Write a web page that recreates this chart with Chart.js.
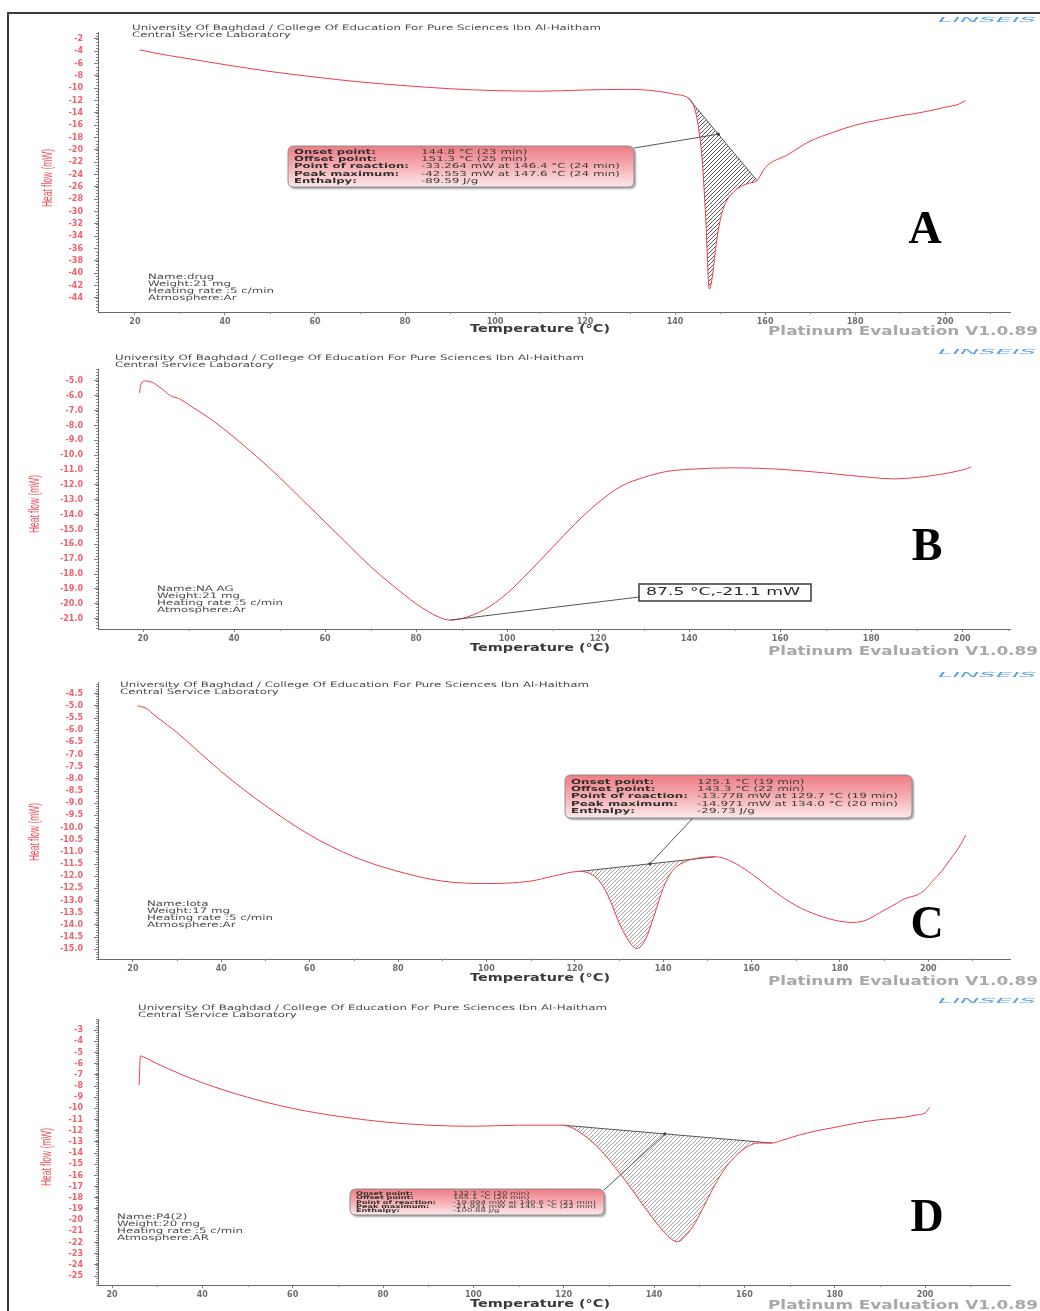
<!DOCTYPE html>
<html>
<head>
<meta charset="utf-8">
<title>DSC thermograms</title>
<script src="https://cdn.jsdelivr.net/npm/chart.js@4.4.1/dist/chart.umd.min.js"></script>
<style>
  html, body { margin:0; padding:0; background:#fff; }
  #sheet { position:relative; width:1040px; height:1311px; overflow:hidden; background:#fff; }
  #sheet canvas { position:absolute; left:0; }
  #frame { position:absolute; left:7px; top:12px; width:1060px; height:1320px;
           border-left:2px solid #3c3c3c; border-top:2px solid #3c3c3c; }
</style>
</head>
<body>
<div id="sheet">
  <div id="frame"></div>
  <canvas id="dscA" width="1040" height="328" style="top:14px"></canvas>
  <canvas id="dscB" width="1040" height="322" style="top:342px"></canvas>
  <canvas id="dscC" width="1040" height="328" style="top:664px"></canvas>
  <canvas id="dscD" width="1040" height="319" style="top:992px"></canvas>
</div>
<script>
// ---------- shared axis labels ----------
const xTickValues = [20, 40, 60, 80, 100, 120, 140, 160, 180, 200];
const headerLines = ['University Of Baghdad / College Of Education For Pure Sciences Ibn Al-Haitham',
                     'Central Service Laboratory'];
const resultLabels = ['Onset point:', 'Offset point:', 'Point of reaction:', 'Peak maximum:', 'Enthalpy:'];

// ---------- sample A : drug ----------
const tempA = [21, 25, 30, 40, 50, 60, 70, 80, 90, 100, 110, 120, 130, 136, 140, 142.9, 144, 145, 146, 146.8,
               147.6, 148.3, 149, 150, 151, 152.5, 154.5, 156.5, 158.2, 160, 165, 170, 175, 180, 185, 190, 195, 200, 203, 204.5];
const flowA = [-3.8, -4.4, -5.0, -6.2, -7.3, -8.2, -9.0, -9.6, -10.1, -10.4, -10.5, -10.3, -10.2, -10.5, -11.0, -11.6, -12.6, -15.5, -21.5, -31.0,
               -42.553, -40.5, -36.0, -31.5, -29.0, -27.2, -26.0, -25.4, -25.0, -22.9, -20.8, -18.6, -17.2, -16.0, -15.2, -14.5, -13.9, -13.1, -12.6, -12.0];
const baseTempA = [142.9, 158.2];
const baseFlowA = [-11.6, -25.0];
const yTicksA = [-2, -4, -6, -8, -10, -12, -14, -16, -18, -20, -22, -24, -26, -28, -30, -32, -34, -36, -38, -40, -42, -44];
const infoA = ['Name:drug', 'Weight:21 mg', 'Heating rate :5 c/min', 'Atmosphere:Ar'];
const resultsA = ['144.8 °C (23 min)', '151.3 °C (25 min)', '-33.264 mW at 146.4 °C (24 min)',
                  '-42.553 mW at 147.6 °C (24 min)', '-89.59 J/g'];

// ---------- sample B : NA AG ----------
const tempB = [19.2, 19.6, 20.5, 22, 24, 26, 28, 30, 35, 40, 45, 50, 55, 60, 65, 70, 75, 80, 85, 87.5,
               90, 95, 100, 105, 110, 115, 120, 125, 130, 135, 140, 150, 160, 170, 180, 185, 190, 195, 200, 202];
const flowB = [-5.8, -5.2, -5.0, -5.1, -5.5, -6.0, -6.2, -6.6, -7.6, -8.8, -10.1, -11.5, -13.0, -14.5, -16.0, -17.5, -18.8, -20.0, -20.9, -21.1,
               -21.0, -20.4, -19.3, -17.8, -16.2, -14.6, -13.2, -12.1, -11.5, -11.1, -10.95, -10.85, -10.95, -11.2, -11.5, -11.6, -11.5, -11.3, -11.0, -10.8];
const minTempB = 87.5;
const minFlowB = -21.1;
const yTicksB = [-5, -6, -7, -8, -9, -10, -11, -12, -13, -14, -15, -16, -17, -18, -19, -20, -21];
const infoB = ['Name:NA AG', 'Weight:21 mg', 'Heating rate :5 c/min', 'Atmosphere:Ar'];

// ---------- sample C : Iota ----------
const tempC = [21, 23, 25, 30, 35, 40, 50, 60, 70, 80, 90, 100, 110, 115, 121.2, 124, 126, 128, 130, 132, 134, 136, 138,
               140, 142, 145, 148, 151.8, 155, 160, 165, 170, 175, 180, 183, 186, 189, 192, 195, 197, 199, 201, 203, 205, 207, 208.5];
const flowC = [-5.0, -5.1, -5.4, -6.1, -6.9, -7.7, -9.1, -10.3, -11.2, -11.8, -12.2, -12.3, -12.2, -12.0, -11.8, -11.95, -12.3, -13.0, -13.9, -14.6, -14.971, -14.6, -13.6,
               -12.5, -11.8, -11.4, -11.25, -11.2, -11.35, -11.9, -12.6, -13.2, -13.6, -13.85, -13.9, -13.8, -13.5, -13.2, -12.9, -12.8, -12.6, -12.2, -11.8, -11.3, -10.8, -10.3];
const baseTempC = [121.2, 151.8];
const baseFlowC = [-11.8, -11.2];
const yTicksC = [-4.5, -5, -5.5, -6, -6.5, -7, -7.5, -8, -8.5, -9, -9.5, -10, -10.5, -11, -11.5, -12, -12.5, -13, -13.5, -14, -14.5, -15];
const infoC = ['Name:Iota', 'Weight:17 mg', 'Heating rate :5 c/min', 'Atmosphere:Ar'];
const resultsC = ['125.1 °C (19 min)', '143.3 °C (22 min)', '-13.778 mW at 129.7 °C (19 min)',
                  '-14.971 mW at 134.0 °C (20 min)', '-29.73 J/g'];

// ---------- sample D : P4(2) ----------
const tempD = [26, 26.3, 27, 30, 35, 40, 50, 60, 70, 80, 90, 100, 110, 119.8, 123, 126, 129, 132, 135, 138, 141, 143,
               145.1, 147, 149, 151, 153, 155, 157, 160, 163, 166.1, 168, 172, 176, 180, 185, 190, 195, 198, 200, 201];
const flowD = [-7.9, -5.3, -5.4, -6.0, -6.9, -7.7, -9.0, -10.0, -10.7, -11.2, -11.5, -11.6, -11.5, -11.5, -12.0, -12.9, -14.1, -15.6, -17.2, -18.9, -20.5, -21.4,
               -21.931, -21.4, -20.3, -18.8, -17.2, -15.8, -14.7, -13.6, -13.1, -13.1, -12.9, -12.4, -12.0, -11.7, -11.3, -11.0, -10.8, -10.6, -10.4, -9.9];
const baseTempD = [119.8, 166.1];
const baseFlowD = [-11.5, -13.1];
const yTicksD = [-3, -4, -5, -6, -7, -8, -9, -10, -11, -12, -13, -14, -15, -16, -17, -18, -19, -20, -21, -22, -23, -24, -25];
const infoD = ['Name:P4(2)', 'Weight:20 mg', 'Heating rate :5 c/min', 'Atmosphere:AR'];
const resultsD = ['132.1 °C (20 min)', '165.1 °C (26 min)', '-19.894 mW at 140.6 °C (21 min)',
                  '-21.931 mW at 145.1 °C (22 min)', '-100.88 J/g'];

// ---------- styling ----------
const CURVE_RED = '#ee3d49';
const TICK_RED = '#f2606a';
const SANS = '"DejaVu Sans", Verdana, sans-serif';
const NARROW = '"Liberation Sans Narrow", "Liberation Sans", sans-serif';

function hatchPattern(color, gap, width) {
  const c = document.createElement('canvas');
  c.width = gap; c.height = gap;
  const g = c.getContext('2d');
  g.strokeStyle = color; g.lineWidth = width;
  g.beginPath();
  g.moveTo(0, gap); g.lineTo(gap, 0);
  g.moveTo(-1, 1); g.lineTo(1, -1);
  g.moveTo(gap - 1, gap + 1); g.lineTo(gap + 1, gap - 1);
  g.stroke();
  return g.createPattern(c, 'repeat');
}

// draw text squeezed/stretched horizontally by factor sx
function textAt(ctx, text, x, y, font, color, sx, align) {
  ctx.save();
  ctx.font = font; ctx.fillStyle = color; ctx.textBaseline = 'middle'; ctx.textAlign = 'left';
  const w = ctx.measureText(text).width * sx;
  let x0 = x;
  if (align === 'center') x0 = x - w / 2;
  else if (align === 'right') x0 = x - w;
  ctx.translate(x0, y); ctx.scale(sx, 1);
  ctx.fillText(text, 0, 0);
  ctx.restore();
}
function scaleFor(ctx, text, font, width) {
  ctx.save(); ctx.font = font;
  const w = ctx.measureText(text).width; ctx.restore();
  return width / w;
}

function roundRectPath(ctx, x, y, w, h, r) {
  ctx.beginPath();
  ctx.moveTo(x + r, y);
  ctx.lineTo(x + w - r, y); ctx.quadraticCurveTo(x + w, y, x + w, y + r);
  ctx.lineTo(x + w, y + h - r); ctx.quadraticCurveTo(x + w, y + h, x + w - r, y + h);
  ctx.lineTo(x + r, y + h); ctx.quadraticCurveTo(x, y + h, x, y + h - r);
  ctx.lineTo(x, y + r); ctx.quadraticCurveTo(x, y, x + r, y);
  ctx.closePath();
}

function baselineAt(p, t) {
  const f = (t - p.baseT[0]) / (p.baseT[1] - p.baseT[0]);
  return p.baseF[0] + f * (p.baseF[1] - p.baseF[0]);
}

function decorPlugin(p) {
  return {
    id: 'decor' + p.letter,
    afterDraw(chart) {
      const ctx = chart.ctx, xs = chart.scales.x, ys = chart.scales.y, off = p.top;
      ctx.save();

      // minor tick marks
      ctx.strokeStyle = '#8a8a8a'; ctx.lineWidth = 1;
      ctx.beginPath();
      const n0 = Math.ceil(ys.min / p.yMinor), n1 = Math.floor(ys.max / p.yMinor);
      for (let k = n0; k <= n1; k++) {
        const y = Math.round(ys.getPixelForValue(k * p.yMinor)) + 0.5;
        ctx.moveTo(xs.left - 2, y); ctx.lineTo(xs.left, y);
      }
      for (let t = 10; t <= xs.max; t += 20) {
        if (t < xs.min) continue;
        const x = Math.round(xs.getPixelForValue(t)) + 0.5;
        ctx.moveTo(x, ys.bottom); ctx.lineTo(x, ys.bottom + 2);
      }
      ctx.stroke();

      // header
      const hf = '7.5px ' + SANS;
      const hs = scaleFor(ctx, headerLines[0], hf, 469);
      textAt(ctx, headerLines[0], p.header[0], p.header[1] - off, hf, '#4a4a4a', hs);
      textAt(ctx, headerLines[1], p.header[0], p.header[1] + 7 - off, hf, '#4a4a4a', hs);

      // sample info block
      const inf = '7.5px ' + SANS;
      const is = scaleFor(ctx, p.info[2], inf, 126);
      p.info.forEach((s, i) => textAt(ctx, s, p.infoPos[0], p.infoPos[1] + i * 7 - off, inf, '#4a4a4a', is));

      // axis titles
      const tf = 'bold 11px ' + SANS;
      textAt(ctx, 'Temperature (°C)', 540, p.tempTitleY - off, tf, '#3a3a3a', scaleFor(ctx, 'Temperature (°C)', tf, 140), 'center');
      ctx.save();
      ctx.translate(p.yTitle[0], p.yTitle[1] - off);
      ctx.rotate(-Math.PI / 2);
      const yf = '15px ' + NARROW;
      textAt(ctx, 'Heat flow (mW)', 0, 0, yf, '#f0505a', scaleFor(ctx, 'Heat flow (mW)', yf, 58), 'center');
      ctx.restore();

      // software footer and maker logo
      const pf = 'bold 12px ' + SANS;
      textAt(ctx, 'Platinum Evaluation V1.0.89', 1038, p.footY - off, pf, '#a8a8a8',
             scaleFor(ctx, 'Platinum Evaluation V1.0.89', pf, 270), 'right');
      const lf = 'italic 7px ' + SANS;
      textAt(ctx, 'LINSEIS', 1036, p.logoY - off, lf, '#5aa4e6', scaleFor(ctx, 'LINSEIS', lf, 98), 'right');

      // panel letter
      textAt(ctx, p.letter, p.letterPos[0], p.letterPos[1] - off, 'bold 46px "Liberation Serif", "DejaVu Serif", serif', '#000', 1, 'center');

      // result box with leader line
      if (p.box) {
        const b = p.box;
        const tx = xs.getPixelForValue(b.toT), ty = ys.getPixelForValue(baselineAt(p, b.toT));
        ctx.strokeStyle = '#555'; ctx.lineWidth = 1;
        ctx.beginPath(); ctx.moveTo(b.from[0], b.from[1] - off); ctx.lineTo(tx, ty); ctx.stroke();
        ctx.fillStyle = '#444';
        ctx.beginPath(); ctx.arc(tx, ty, 1.6, 0, Math.PI * 2); ctx.fill();

        const bx = b.x, by = b.y - off;
        ctx.save();
        ctx.shadowColor = 'rgba(0,0,0,0.35)'; ctx.shadowOffsetX = 2; ctx.shadowOffsetY = 2; ctx.shadowBlur = 2;
        roundRectPath(ctx, bx, by, b.w, b.h, 6);
        const g = ctx.createLinearGradient(bx, by, bx, by + b.h);
        g.addColorStop(0, '#ee7c84'); g.addColorStop(0.55, '#f6b4b8'); g.addColorStop(1, '#fce9ea');
        ctx.fillStyle = g; ctx.fill();
        ctx.restore();
        roundRectPath(ctx, bx, by, b.w, b.h, 6);
        ctx.strokeStyle = '#8c8c8c'; ctx.lineWidth = 1; ctx.stroke();

        const lfnt = 'bold ' + b.fs + 'px ' + SANS, vfnt = b.fs + 'px ' + SANS;
        const ls = scaleFor(ctx, resultLabels[2], lfnt, b.labelW);
        const vs = scaleFor(ctx, b.values[3], vfnt, b.valueW);
        resultLabels.forEach((s, i) => {
          const y = by + b.pad + i * b.lineH;
          textAt(ctx, s, bx + 6, y, lfnt, '#2e2e2e', ls);
          textAt(ctx, b.values[i], bx + b.valX, y, vfnt, '#3a3a3a', vs);
        });
      }

      // minimum label (sample B)
      if (p.minBox) {
        const m = p.minBox;
        const tx = xs.getPixelForValue(m.t), ty = ys.getPixelForValue(m.f);
        ctx.strokeStyle = '#555'; ctx.lineWidth = 1;
        ctx.beginPath(); ctx.moveTo(m.x, m.y + m.h - 4 - off); ctx.lineTo(tx, ty); ctx.stroke();
        ctx.fillStyle = '#fff'; ctx.fillRect(m.x, m.y - off, m.w, m.h);
        ctx.strokeStyle = '#3a3a3a'; ctx.lineWidth = 1.5; ctx.strokeRect(m.x, m.y - off, m.w, m.h);
        const mf = '11px ' + SANS;
        const label = m.t.toFixed(1) + ' °C,' + m.f.toFixed(1) + ' mW';
        textAt(ctx, label, m.x + 7, m.y + m.h / 2 - off, mf, '#2a2a2a', scaleFor(ctx, label, mf, 154));
      }
      ctx.restore();
    }
  };
}

function makeChart(p) {
  const canvas = document.getElementById(p.id);
  const curve = p.temp.map((t, i) => ({ x: t, y: p.flow[i] }));
  const datasets = [{
    data: curve, borderColor: CURVE_RED, borderWidth: 1, pointRadius: 0,
    cubicInterpolationMode: 'monotone', fill: false
  }];
  if (p.baseT) {
    datasets.push({
      data: p.baseT.map((t, i) => ({ x: t, y: p.baseF[i] })),
      borderColor: '#555', borderWidth: 1, pointRadius: 0, fill: false
    });
    datasets.push({
      data: curve.filter(pt => pt.x >= p.baseT[0] && pt.x <= p.baseT[1]),
      borderColor: 'rgba(0,0,0,0)', borderWidth: 0, pointRadius: 0,
      cubicInterpolationMode: 'monotone', fill: { target: 1 },
      backgroundColor: hatchPattern(p.hatchColor, 4, p.hatchWidth)
    });
  }
  const xAxisH = p.top + canvas.height - p.axisBottom;
  return new Chart(canvas, {
    type: 'line',
    data: { datasets },
    options: {
      animation: false, responsive: false, maintainAspectRatio: false,
      events: [],
      layout: { padding: { left: 0, right: 30, top: p.axisTop - p.top, bottom: 0 } },
      plugins: { legend: { display: false }, tooltip: { enabled: false } },
      scales: {
        x: {
          type: 'linear', min: p.xMin, max: p.xMax,
          afterBuildTicks: s => { s.ticks = xTickValues.map(v => ({ value: v })); },
          afterFit: s => { s.height = xAxisH; },
          ticks: { color: '#6e6e6e', font: { family: SANS, size: 8, weight: 'bold' }, padding: 2, autoSkip: false, maxRotation: 0 },
          grid: { display: true, drawOnChartArea: false, drawTicks: true, tickLength: 3, color: '#808080' },
          border: { display: true, color: '#6a6a6a', width: 1 }
        },
        y: {
          type: 'linear', min: p.yMin, max: p.yMax,
          afterBuildTicks: s => { s.ticks = p.yTicks.map(v => ({ value: v })); },
          afterFit: s => { s.width = 98; },
          ticks: { color: TICK_RED, font: { family: SANS, size: 8, weight: 'bold' }, padding: 11, autoSkip: false,
                   callback: v => Number(v).toFixed(p.dec) },
          grid: { display: true, drawOnChartArea: false, drawTicks: true, tickLength: 4, color: '#808080' },
          border: { display: true, color: '#6a6a6a', width: 1 }
        }
      }
    },
    plugins: [decorPlugin(p)]
  });
}

const panels = [
  { id: 'dscA', letter: 'A', top: 14, temp: tempA, flow: flowA, baseT: baseTempA, baseF: baseFlowA, hatchColor: '#4a4a4a', hatchWidth: 0.9,
    yTicks: yTicksA, dec: 0, yMinor: 0.5, xMin: 11.8, xMax: 214.4, yMin: -46.3, yMax: -0.9, axisTop: 32, axisBottom: 312,
    header: [132, 28], info: infoA, infoPos: [148, 277], tempTitleY: 329, yTitle: [48, 178], footY: 332, logoY: 20, letterPos: [925, 231],
    box: { x: 288, y: 146, w: 346, h: 41, fs: 7, pad: 6, lineH: 7.3, valX: 133, labelW: 115, valueW: 199, values: resultsA, from: [634, 148], toT: 149.6 } },
  { id: 'dscB', letter: 'B', top: 342, temp: tempB, flow: flowB,
    yTicks: yTicksB, dec: 1, yMinor: 0.2, xMin: 10.1, xMax: 210.5, yMin: -21.7, yMax: -4.2, axisTop: 369, axisBottom: 629,
    header: [115, 358], info: infoB, infoPos: [157, 589], tempTitleY: 648, yTitle: [35, 504], footY: 652, logoY: 352, letterPos: [927, 548],
    minBox: { t: minTempB, f: minFlowB, x: 639, y: 584, w: 172, h: 17 } },
  { id: 'dscC', letter: 'C', top: 664, temp: tempC, flow: flowC, baseT: baseTempC, baseF: baseFlowC, hatchColor: '#7a7a7a', hatchWidth: 0.7,
    yTicks: yTicksC, dec: 1, yMinor: 0.1, xMin: 12.1, xMax: 218.5, yMin: -15.4, yMax: -4.02, axisTop: 682, axisBottom: 959,
    header: [120, 685], info: infoC, infoPos: [147, 904], tempTitleY: 978, yTitle: [35, 832], footY: 982, logoY: 675, letterPos: [927, 926],
    box: { x: 565, y: 775, w: 347, h: 43, fs: 7, pad: 7, lineH: 7.3, valX: 132, labelW: 117, valueW: 201, values: resultsC, from: [693, 818], toT: 137 } },
  { id: 'dscD', letter: 'D', top: 992, temp: tempD, flow: flowD, baseT: baseTempD, baseF: baseFlowD, hatchColor: '#7a7a7a', hatchWidth: 0.7,
    yTicks: yTicksD, dec: 0, yMinor: 0.2, xMin: 16.9, xMax: 218.8, yMin: -25.8, yMax: -2.0, axisTop: 1019, axisBottom: 1285,
    header: [138, 1008], info: infoD, infoPos: [117, 1217], tempTitleY: 1304, yTitle: [47, 1157], footY: 1306, logoY: 1001, letterPos: [927, 1219],
    box: { x: 350, y: 1189, w: 254, h: 26, fs: 5, pad: 4.5, lineH: 4.4, valX: 103, labelW: 80, valueW: 143, values: resultsD, from: [604, 1190], toT: 142.4 } }
];

panels.forEach(makeChart);
</script>
</body>
</html>
